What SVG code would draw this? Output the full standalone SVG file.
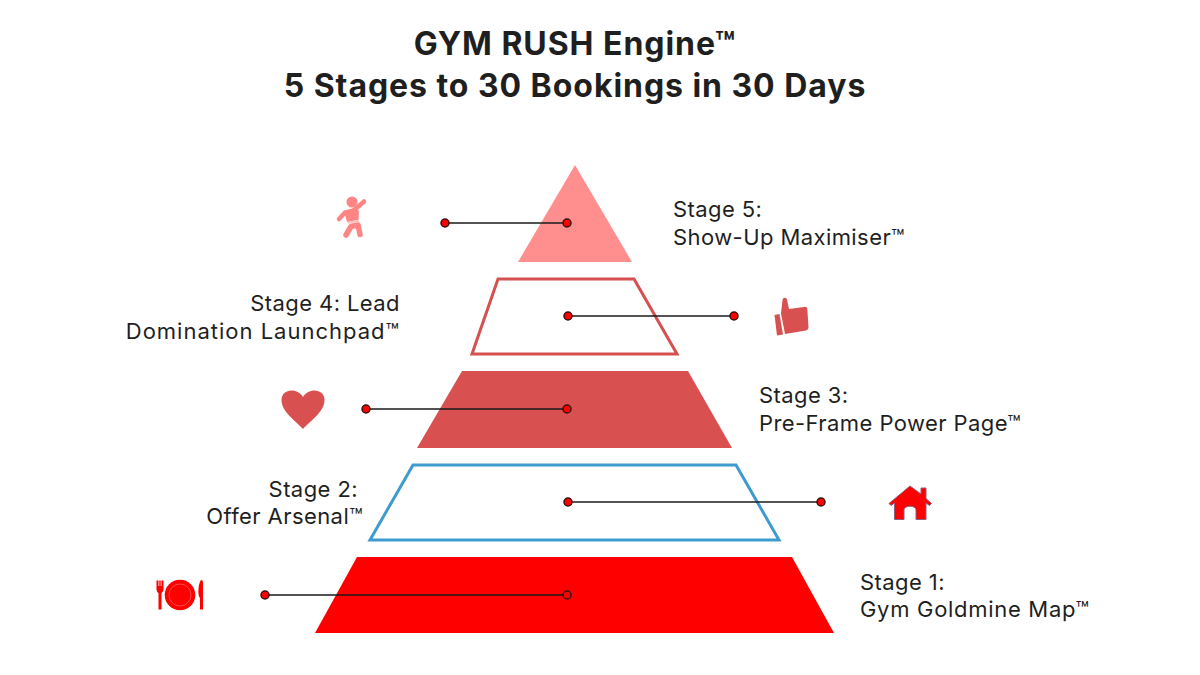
<svg xmlns="http://www.w3.org/2000/svg" width="1200" height="675" viewBox="0 0 1200 675">
<style>
text{font-family:"Inter","Liberation Sans",sans-serif;fill:#1f1f1f}
.t{font-size:32px;font-weight:700;text-anchor:middle;letter-spacing:.95px}
.l{font-size:22px;letter-spacing:.42px}
.e{text-anchor:end}
.c{stroke:#1a1a1a;stroke-width:1.300;fill:none}
.d{fill:#f00;stroke:#3a1010;stroke-width:1.500}
.limb{fill:none;stroke:#ff8585;stroke-linecap:round;stroke-linejoin:round}
</style>
<rect width="1200" height="675" fill="#fff"/>
<text class="t" x="575" y="55">GYM RUSH Engine™</text>
<text class="t" x="575" y="97">5 Stages to 30 Bookings in 30 Days</text>
<g id="stage5"><polygon points="575,165 632,262 518,262" fill="#ff8f8f"/>
<text class="l" x="673" y="217">Stage 5:</text><text class="l" x="673" y="245">Show-Up Maximiser™</text>
<g id="icon5"><circle cx="352" cy="202" r="5.500" fill="#ff8585"/><path class="limb" stroke-width="4.500" d="M339 219L345 212.500L353 211L364 201.500"/><path fill="#ff8585" d="M344 211L354 208L359 211L358.500 220L347 222Z"/><path class="limb" stroke-width="5.500" d="M346 235L351 226.500L358 225L360 234.500"/><path fill="#ffc0c0" d="M347.500 221.800L358.500 220L359 222L348.500 223.800Z"/></g></g>
<g id="stage4"><polygon points="498,279 634,279 677,354 472,354" fill="#fff" stroke="#d65050" stroke-width="3"/>
<text class="l e" x="400" y="311">Stage 4: Lead</text><text class="l e" style="letter-spacing:1px" x="400" y="339">Domination Launchpad™</text>
<g id="icon4" fill="#d95050"><path d="M782.500 300C783 297.500 786 297 787 299.500L789 309L804 307C806 306.500 807 307.500 807.300 309L808.500 327C808.500 329 807.500 330 806 330.500L785 334L781 313.500Z"/><polygon points="774.500,315 779.500,314 783,334.500 777,335.500"/></g></g>
<g id="stage3"><polygon points="462,371 688,371 732,448 417,448" fill="#d95050"/>
<text class="l" x="759" y="403">Stage 3:</text><text class="l" x="759" y="431">Pre-Frame Power Page™</text>
<path id="icon3" fill="#d95050" d="M303 429C296 421 281.500 412 281.500 400C281.500 394 286 390.500 291.500 390.500C296.500 390.500 300.500 393 303 397C305.500 393 309.500 390.500 314.500 390.500C320 390.500 324.500 394 324.500 400C324.500 412 310 421 303 429Z"/></g>
<g id="stage2"><polygon points="413,465 736,465 779,540 370,540" fill="#fff" stroke="#3d9bd0" stroke-width="3"/>
<text class="l e" x="358" y="497">Stage 2:</text><text class="l e" x="363" y="524">Offer Arsenal™</text>
<g id="icon2"><path d="M910 486L921 494L921 488L926 488L926 498.500L931.500 503.500L929.500 505.500L926 503L926 519.500L916 519.500L916 510C916 505 904 505 904 510L904 519.500L894.500 519.500L894.500 503L891 505.500L889 503.500Z" fill="#f00" stroke="#8a5f80" stroke-width="1"/></g></g>
<g id="stage1"><polygon points="357,557 792,557 834,633 315,633" fill="#f00"/>
<text class="l" x="860" y="590">Stage 1:</text><text class="l" style="letter-spacing:.7px" x="860" y="617">Gym Goldmine Map™</text>
<g id="icon1" fill="#f00"><circle cx="180" cy="595" r="15.300"/><circle cx="180" cy="595" r="11" fill="none" stroke="#ff5a5a" stroke-width=".8"/><path d="M156.500 580.500H158.500V586H159.300V580.500H160.700V586H161.500V580.500H163.500V589C163.500 591.500 162 592.500 161.500 593V609.500H158.500V593C157.500 592.500 156.500 591.500 156.500 589Z"/><path d="M201 580C202.500 580 203 581 203 583V609.500H200V598C197.500 596 198 584 201 580Z"/></g></g>
<g id="connectors">
<line class="c" x1="445" y1="223" x2="567" y2="223"/><circle class="d" cx="445" cy="223" r="4"/><circle class="d" cx="567" cy="223" r="4"/>
<line class="c" x1="568" y1="316" x2="734" y2="316"/><circle class="d" cx="568" cy="316" r="4"/><circle class="d" cx="734" cy="316" r="4"/>
<line class="c" x1="366" y1="409" x2="567" y2="409"/><circle class="d" cx="366" cy="409" r="4"/><circle class="d" cx="567" cy="409" r="4"/>
<line class="c" x1="568" y1="502" x2="821" y2="502"/><circle class="d" cx="568" cy="502" r="4"/><circle class="d" cx="821" cy="502" r="4"/>
<line class="c" x1="265" y1="595" x2="567" y2="595"/><circle class="d" cx="265" cy="595" r="4"/><circle class="d" cx="567" cy="595" r="4"/>
</g>
</svg>
